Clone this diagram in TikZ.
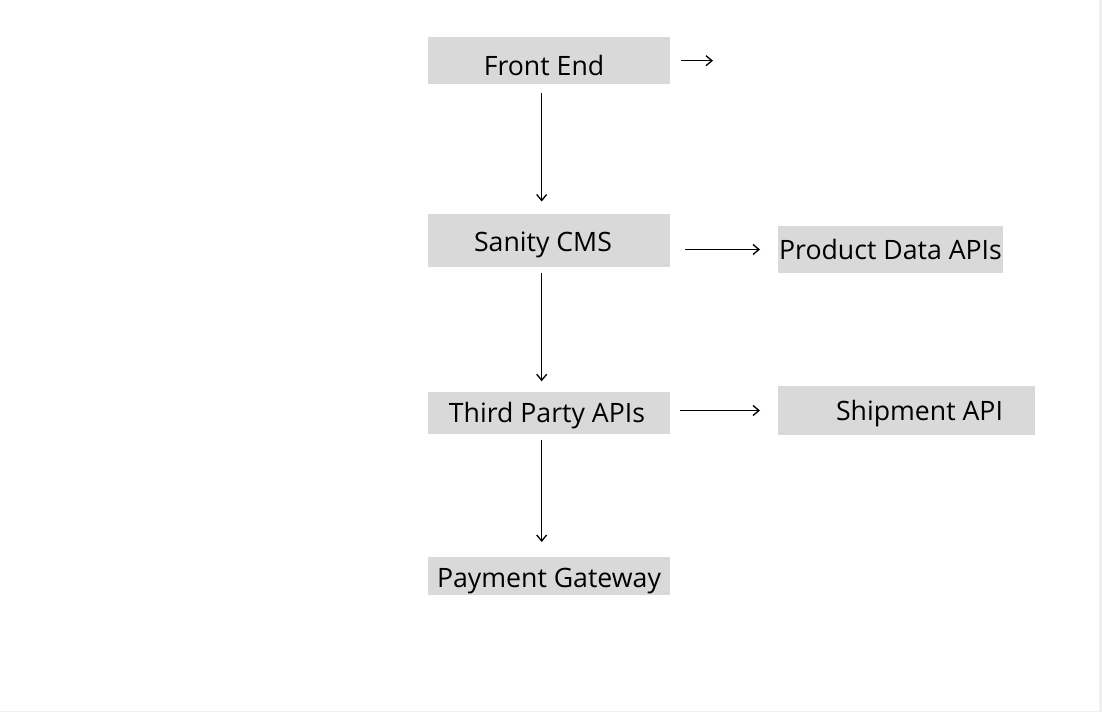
\documentclass[tikz,border=0pt]{standalone}
\usepackage{fontspec}
\setmainfont{Open Sans}
\usepackage{xcolor}
\definecolor{BoxGray}{HTML}{D9D9D9}
\definecolor{EdgeGray}{HTML}{F0F0F0}
\usetikzlibrary{arrows.meta}

\begin{document}
\begin{tikzpicture}[x=0.75pt,y=-0.75pt,
	box/.style={fill=BoxGray,inner sep=0pt,outer sep=0pt,text depth=0pt,text height=#1,
		font=\fontsize{20}{24}\selectfont},
	box/.default=14.3pt,
	link/.style={line width=1pt,-{Straight Barb[length=4.5pt,width=7.5pt]}}]
	\useasboundingbox (0,0) rectangle (1102,712);
	\fill[white] (0,0) rectangle (1102,712);
	\fill[EdgeGray] (1099,0) rectangle (1102,712);
	\fill[EdgeGray] (0,710.5) rectangle (1102,712);
	
	% left column
	\node[box=21.5pt,minimum width=181.5pt,minimum height=35.25pt] (front) at (549,60.7) {Front End\hspace*{7.5pt}};
	\node[box=16pt,minimum width=181.5pt,minimum height=39.75pt] (sanity) at (549,241) {Sanity CMS\hspace*{9pt}};
	\node[box,minimum width=181.5pt,minimum height=31.5pt] (third) at (549,413.3) {Third Party APIs\hspace*{3pt}};
	\node[box=17.3pt,minimum width=181.5pt,minimum height=28.5pt] (payment) at (549,576) {Payment Gateway};
	
	% right column
	\node[box,minimum width=168.75pt,minimum height=35.25pt] (product) at (890.5,249.5) {Product Data APIs};
	\node[box,minimum width=192.75pt,minimum height=36.75pt] (shipment) at (906.5,410.5) {\hspace*{19.5pt}Shipment API};
	
	\coordinate (frontout) at (713,60.7);
	
	\draw[link,shorten <=8pt] (front.east) -- (frontout);
	\draw[link,shorten <=6.75pt,shorten >=9.75pt] ([xshift=-5.5pt]front.south) -- ([xshift=-5.5pt]sanity.north);
	\draw[link,shorten <=4.5pt,shorten >=8.25pt] ([xshift=-5.5pt]sanity.south) -- ([xshift=-5.5pt]third.north);
	\draw[link,shorten <=4.5pt,shorten >=11.25pt] ([xshift=-5.5pt]third.south) -- ([xshift=-5.5pt]payment.north);
	\draw[link,shorten <=11.6pt,shorten >=13.5pt] (sanity.east |- product.west) -- (product.west);
	\draw[link,shorten <=7.5pt,shorten >=13.5pt] (third.east |- shipment.west) -- (shipment.west);
	
\end{tikzpicture}
\end{document}
